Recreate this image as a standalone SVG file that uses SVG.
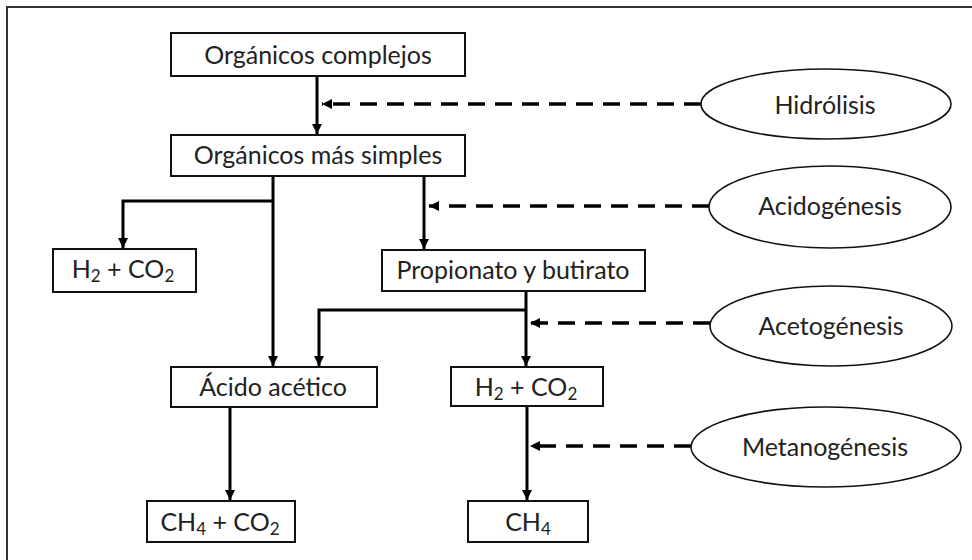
<svg xmlns="http://www.w3.org/2000/svg" width="972" height="560" viewBox="0 0 972 560">
  <style>
    .box { fill: #fff; stroke: #111; stroke-width: 2; }
    .stage { fill: #fff; stroke: #111; stroke-width: 1.6; }
    .lbl { font-family: Lato, "Open Sans", "Liberation Sans", sans-serif; font-size: 25px; fill: #222; text-anchor: middle; }
    .sub { font-size: 17px; }
    .flow { fill: none; stroke: #000; stroke-width: 3; }
    .dash { fill: none; stroke: #000; stroke-width: 3.5; stroke-dasharray: 17 10; }
  </style>
  <defs>
    <marker id="tip" viewBox="0 0 10 10" refX="10" refY="5" markerWidth="10" markerHeight="10" markerUnits="userSpaceOnUse" orient="auto">
      <path d="M0,0 L10,5 L0,10 Z" fill="#000"/>
    </marker>
  </defs>

  <!-- frame -->
  <path d="M7,560 V7 H972" fill="none" stroke="#333" stroke-width="2"/>

  <!-- connectors -->
  <g id="connectors">
    <path class="flow" d="M317,76 V134" marker-end="url(#tip)"/>
    <path class="flow" d="M273,176 V366" marker-end="url(#tip)"/>
    <path class="flow" d="M273,201 H123 V248" marker-end="url(#tip)"/>
    <path class="flow" d="M424,176 V249" marker-end="url(#tip)"/>
    <path class="flow" d="M526,291 V366" marker-end="url(#tip)"/>
    <path class="flow" d="M526,310 H319 V366" marker-end="url(#tip)"/>
    <path class="flow" d="M230,407 V500" marker-end="url(#tip)"/>
    <path class="flow" d="M527,406 V500" marker-end="url(#tip)"/>
    <path class="dash" d="M701,104 H322" marker-end="url(#tip)"/>
    <path class="dash" d="M709,206 H429" marker-end="url(#tip)"/>
    <path class="dash" d="M710,323 H530" marker-end="url(#tip)"/>
    <path class="dash" d="M691,446 H530" marker-end="url(#tip)"/>
  </g>

  <g id="organicos-complejos">
    <rect class="box" x="171" y="33" width="294" height="43"/>
    <text class="lbl" x="318" y="64">Orgánicos complejos</text>
  </g>
  <g id="organicos-simples">
    <rect class="box" x="171" y="135" width="294" height="41"/>
    <text class="lbl" x="318" y="164">Orgánicos más simples</text>
  </g>
  <g id="h2-co2-a">
    <rect class="box" x="53" y="249" width="143" height="43"/>
    <text class="lbl" x="123" y="278">H<tspan class="sub" dy="4">2</tspan><tspan dy="-4"> + CO</tspan><tspan class="sub" dy="4">2</tspan></text>
  </g>
  <g id="propionato">
    <rect class="box" x="382" y="250" width="263" height="41"/>
    <text class="lbl" x="513" y="279">Propionato y butirato</text>
  </g>
  <g id="acido-acetico">
    <rect class="box" x="171" y="367" width="206" height="40"/>
    <text class="lbl" x="273" y="396">Ácido acético</text>
  </g>
  <g id="h2-co2-b">
    <rect class="box" x="451" y="367" width="152" height="39"/>
    <text class="lbl" x="526" y="396">H<tspan class="sub" dy="4">2</tspan><tspan dy="-4"> + CO</tspan><tspan class="sub" dy="4">2</tspan></text>
  </g>
  <g id="ch4-co2">
    <rect class="box" x="147" y="501" width="148" height="41"/>
    <text class="lbl" x="220" y="531">CH<tspan class="sub" dy="4">4</tspan><tspan dy="-4"> + CO</tspan><tspan class="sub" dy="4">2</tspan></text>
  </g>
  <g id="ch4">
    <rect class="box" x="468" y="501" width="120" height="41"/>
    <text class="lbl" x="528" y="531">CH<tspan class="sub" dy="4">4</tspan></text>
  </g>

  <g id="hidrolisis">
    <ellipse class="stage" cx="826" cy="104" rx="125" ry="35"/>
    <text class="lbl" x="825" y="114">Hidrólisis</text>
  </g>
  <g id="acidogenesis">
    <ellipse class="stage" cx="830" cy="207" rx="121" ry="41"/>
    <text class="lbl" x="830" y="215">Acidogénesis</text>
  </g>
  <g id="acetogenesis">
    <ellipse class="stage" cx="831" cy="326" rx="121" ry="40"/>
    <text class="lbl" x="831" y="335">Acetogénesis</text>
  </g>
  <g id="metanogenesis">
    <ellipse class="stage" cx="826" cy="447" rx="135" ry="40"/>
    <text class="lbl" x="825" y="456">Metanogénesis</text>
  </g>
</svg>
